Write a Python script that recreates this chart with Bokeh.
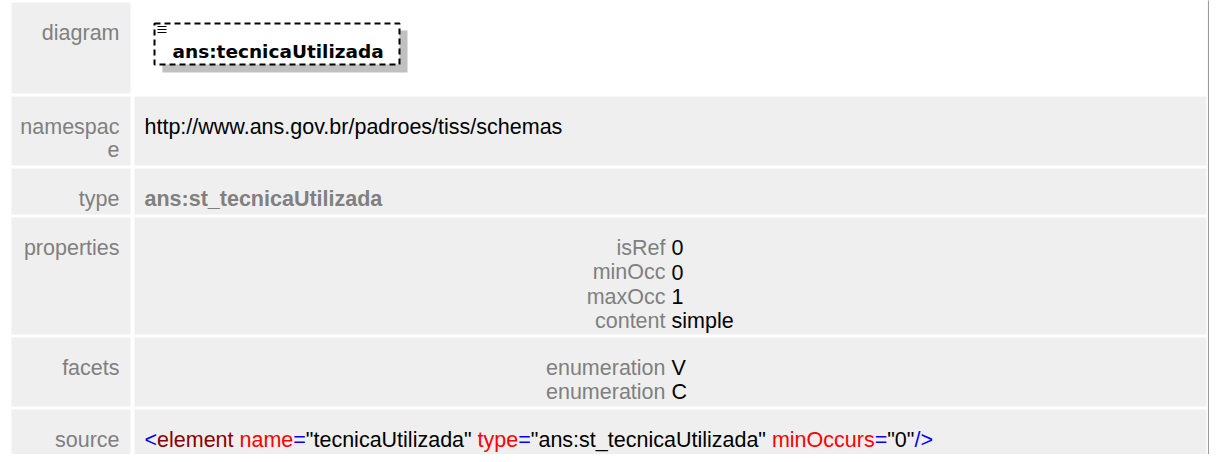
from bokeh.plotting import figure
from bokeh.models import Range1d
from bokeh.core.properties import value
from bokeh.embed import file_html
from bokeh.resources import INLINE

# ---------------- data ----------------
row_labels = ["diagram", "namespac", "type", "properties", "facets", "source"]
element_name = "ans:tecnicaUtilizada"
namespace_uri = "http://www.ans.gov.br/padroes/tiss/schemas"
type_name = "ans:st_tecnicaUtilizada"
prop_keys = ["isRef", "minOcc", "maxOcc", "content"]
prop_vals = ["0", "0", "1", "simple"]
facet_keys = ["enumeration", "enumeration"]
facet_vals = ["V", "C"]
source_parts = ["<", "element", " name", "=", "\"tecnicaUtilizada\"", " type", "=",
                "\"ans:st_tecnicaUtilizada\"", " minOccurs", "=", "\"0\"", "/>"]
source_kinds = ["punct", "tag", "attr", "punct", "val", "attr", "punct",
                "val", "attr", "punct", "val", "punct"]

# ---------------- layout / style ----------------
FONT = value("Liberation Sans")
FS = 21.5
FSS = "21.5px"
LABEL_GRAY = "#808080"
CELL_BG = "#efefef"
kind_color = {"punct": "#0000ff", "tag": "#8b0000", "attr": "#ff0000", "val": "#000000"}

row_tops = [10, 104, 176, 225, 345, 417]
row_bots = [101, 173, 222, 342, 414, 470]
LAB_L, LAB_R, CON_L, CON_R = 11, 130, 134, 1206
LAB_TX, CON_TX = 119, 144
KEY_R, VAL_L = 665, 671

# Arial / Liberation Sans advance widths (per 1000 em)
W = {'<': 584, '>': 584, '=': 584, '"': 355, ' ': 278, '/': 278, ':': 278, '_': 556,
     'a': 556, 'c': 500, 'd': 556, 'e': 556, 'i': 222, 'l': 222, 'm': 833, 'n': 556,
     'o': 556, 'p': 556, 'r': 333, 's': 500, 't': 278, 'u': 556, 'y': 500, 'z': 500,
     'U': 722, 'O': 778, 'C': 722, '0': 556}


def tw(s):
    return sum(W.get(ch, 556) for ch in s) * FS / 1000.0


p = figure(width=1209, height=454, x_range=Range1d(0, 1209), y_range=Range1d(462, 8),
           output_backend="svg", toolbar_location=None, min_border=0,
           x_axis_type=None, y_axis_type=None)
p.grid.visible = False
p.outline_line_color = None
p.background_fill_color = "white"
p.border_fill_color = "white"

# label cells
p.quad(left=[LAB_L] * len(row_tops), right=[LAB_R] * len(row_tops),
       top=row_tops, bottom=row_bots, fill_color=CELL_BG, line_color=None)
# content cells (diagram row stays white)
p.quad(left=[CON_L] * (len(row_tops) - 1), right=[CON_R] * (len(row_tops) - 1),
       top=row_tops[1:], bottom=row_bots[1:], fill_color=CELL_BG, line_color=None)

# right border line
p.segment(x0=[1208.2], y0=[6], x1=[1208.2], y1=[470], line_color="#9a9a9a", line_width=1.5)

# row labels
base = [t + 30 for t in row_tops]
p.text(x=[LAB_TX] * len(row_labels), y=base, text=row_labels, text_font=FONT,
       text_font_size=FSS, text_color=LABEL_GRAY, text_align="right",
       text_baseline="alphabetic")
p.text(x=[LAB_TX], y=[base[1] + 23], text=["e"], text_font=FONT, text_font_size=FSS,
       text_color=LABEL_GRAY, text_align="right", text_baseline="alphabetic")

# diagram box
p.quad(left=[162], right=[407], top=[38], bottom=[80], fill_color="#c0c0c0", line_color=None)
p.quad(left=[154], right=[399], top=[31], bottom=[72], fill_color="white",
       line_color="black", line_width=2, line_dash="6 4")
p.segment(x0=[157, 157, 157], y0=[34, 37, 40], x1=[166, 166, 166], y1=[34, 37, 40],
          line_color="black", line_width=1)
p.text(x=[172], y=[59], text=[element_name], text_font=value("DejaVu Sans"),
       text_font_size="18.5px", text_font_style="bold", text_color="black",
       text_baseline="alphabetic")

# namespace
p.text(x=[CON_TX], y=[base[1]], text=[namespace_uri], text_font=FONT, text_font_size=FSS,
       text_color="black", text_baseline="alphabetic")
# type
p.text(x=[CON_TX], y=[base[2]], text=[type_name], text_font=FONT, text_font_size=FSS,
       text_font_style="bold", text_color=LABEL_GRAY, text_baseline="alphabetic")

# properties
py = [base[3] + i * 24.5 for i in range(len(prop_keys))]
p.text(x=[KEY_R] * len(prop_keys), y=py, text=prop_keys, text_font=FONT, text_font_size=FSS,
       text_color=LABEL_GRAY, text_align="right", text_baseline="alphabetic")
p.text(x=[VAL_L] * len(prop_vals), y=py, text=prop_vals, text_font=FONT, text_font_size=FSS,
       text_color="black", text_baseline="alphabetic")

# facets
fy = [base[4] + i * 24 for i in range(len(facet_keys))]
p.text(x=[KEY_R] * len(facet_keys), y=fy, text=facet_keys, text_font=FONT, text_font_size=FSS,
       text_color=LABEL_GRAY, text_align="right", text_baseline="alphabetic")
p.text(x=[VAL_L] * len(facet_vals), y=fy, text=facet_vals, text_font=FONT, text_font_size=FSS,
       text_color="black", text_baseline="alphabetic")

# source line, coloured pieces
xs, ts, cs = [], [], []
cur = CON_TX
for part, kind in zip(source_parts, source_kinds):
    stripped = part.lstrip(" ")
    lead = tw(part[:len(part) - len(stripped)])
    xs.append(cur + lead)
    ts.append(stripped)
    cs.append(kind_color[kind])
    cur += tw(part)
p.text(x=xs, y=[base[5]] * len(xs), text=ts, text_color=cs, text_font=FONT,
       text_font_size=FSS, text_baseline="alphabetic")

open("out.html", "w").write(file_html(p, INLINE))
